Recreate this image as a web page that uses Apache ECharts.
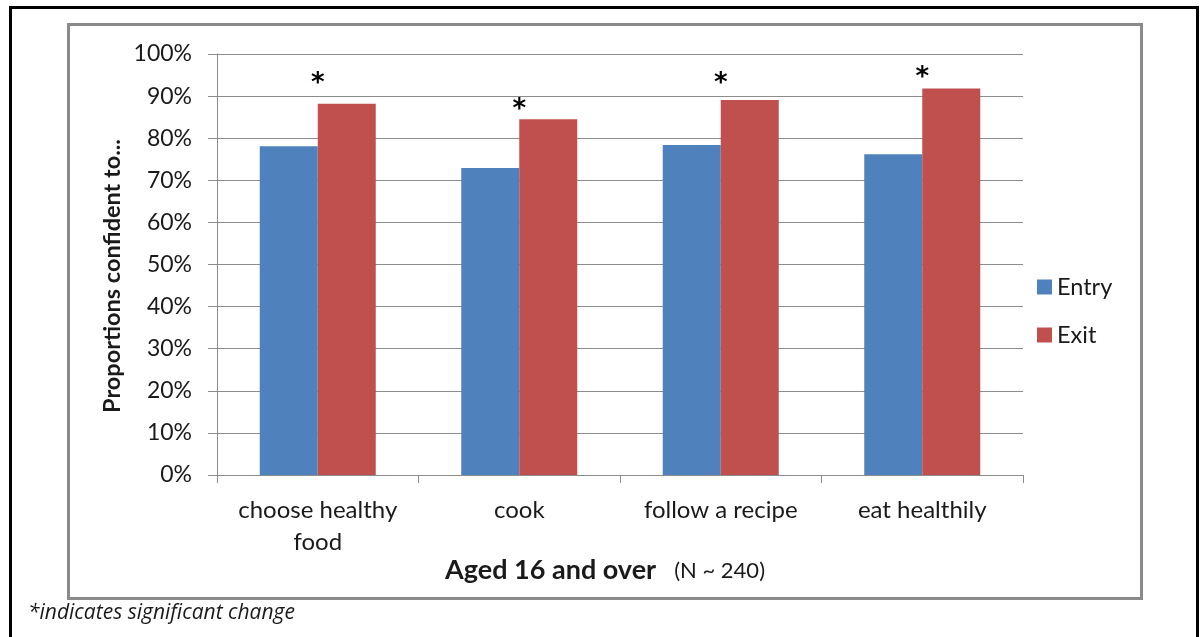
<!DOCTYPE html>
<html>
<head>
<meta charset="utf-8">
<style>
  html, body { margin: 0; padding: 0; background: #fff; }
  #chart { width: 1200px; height: 637px; }
</style>
<script src="https://cdn.jsdelivr.net/npm/echarts@6/dist/echarts.min.js"></script>
</head>
<body>
<div id="chart"></div>
<script>
// Share of respondents aged 16+ confident in each food skill, at entry and exit
const categories = ['choose healthy\nfood', 'cook', 'follow a recipe', 'eat healthily'];
const entryValues = [78.1, 72.9, 78.4, 76.2];
const exitValues = [88.2, 84.5, 89.1, 91.8];
const significant = [true, true, true, true];
const yTickStep = 10;

// Height of each significance marker above its Exit bar, in pixels
const starLift = [19, 9, 16, 10];

const textColor = '#1a1a1a';
const gridColor = '#8c8c8c';
const labelFont = 'Lato, "Open Sans", sans-serif';

const exitData = exitValues.map((v, i) => ({
  value: v,
  label: {
    show: significant[i],
    formatter: '*',
    position: [0, -starLift[i]],
    align: 'center',
    verticalAlign: 'middle',
    fontSize: 26,
    fontWeight: 'bold',
    color: '#000',
    fontFamily: '"DejaVu Sans", sans-serif'
  }
}));

const chart = echarts.init(document.getElementById('chart'), null, { renderer: 'canvas' });
chart.setOption({
  animation: false,
  backgroundColor: '#fff',
  grid: { left: 217, right: 177, top: 54, bottom: 162 },
  title: {
    left: 445,
    top: 557,
    padding: 0,
    text: '{b|Aged 16 and over}{n|(N ~ 240)}',
    textStyle: {
      rich: {
        b: { fontFamily: labelFont, fontWeight: 'bold', fontSize: 27, color: textColor },
        n: { fontFamily: labelFont, fontWeight: 'normal', fontSize: 22, color: textColor, padding: [0, 0, 0, 18] }
      }
    }
  },
  legend: {
    orient: 'vertical',
    left: 1037,
    top: 275,
    padding: 0,
    itemWidth: 15,
    itemHeight: 15,
    itemGap: 24,
    icon: 'rect',
    textStyle: { fontFamily: labelFont, fontSize: 23.5, color: textColor, padding: [0, 0, 0, 0] },
    data: ['Entry', 'Exit']
  },
  xAxis: {
    type: 'category',
    data: categories,
    axisLine: { lineStyle: { color: gridColor, width: 1 } },
    axisTick: { show: true, length: 8, lineStyle: { color: gridColor } },
    axisLabel: {
      interval: 0,
      hideOverlap: false,
      margin: 19,
      fontFamily: labelFont,
      fontSize: 24,
      lineHeight: 32,
      color: textColor
    }
  },
  yAxis: {
    type: 'value',
    min: 0,
    max: 100,
    interval: yTickStep,
    axisLine: { show: true, lineStyle: { color: gridColor, width: 1 } },
    axisTick: { show: true, length: 9, lineStyle: { color: gridColor } },
    splitLine: { lineStyle: { color: gridColor, width: 1 } },
    axisLabel: {
      margin: 25,
      formatter: '{value}%',
      fontFamily: labelFont,
      fontSize: 23,
      color: textColor
    }
  },
  series: [
    {
      name: 'Entry',
      type: 'bar',
      data: entryValues,
      barWidth: 58,
      barGap: '0%',
      itemStyle: { color: '#4F81BD' }
    },
    {
      name: 'Exit',
      type: 'bar',
      data: exitData,
      barWidth: 58,
      barGap: '0%',
      itemStyle: { color: '#C0504D' }
    }
  ],
  graphic: [
    {
      type: 'rect',
      shape: { x: 10.5, y: 7.5, width: 1187, height: 660 },
      style: { fill: 'none', stroke: '#000', lineWidth: 3 },
      silent: true
    },
    {
      type: 'rect',
      shape: { x: 68.5, y: 24.5, width: 1073, height: 574 },
      style: { fill: 'none', stroke: '#8a8a8a', lineWidth: 3 },
      silent: true
    },
    {
      // vertical axis title
      type: 'text',
      x: 112,
      y: 276,
      rotation: Math.PI / 2,
      style: {
        text: 'Proportions confident to...',
        fontFamily: labelFont,
        fontWeight: 'bold',
        fontSize: 23.5,
        fill: textColor,
        align: 'center',
        verticalAlign: 'middle'
      }
    },
    {
      type: 'text',
      left: 28,
      top: 603,
      style: {
        text: '*indicates significant change',
        fontFamily: '"Open Sans", sans-serif',
        fontStyle: 'italic',
        fontSize: 21,
        fill: textColor
      }
    }
  ]
});
</script>
</body>
</html>
